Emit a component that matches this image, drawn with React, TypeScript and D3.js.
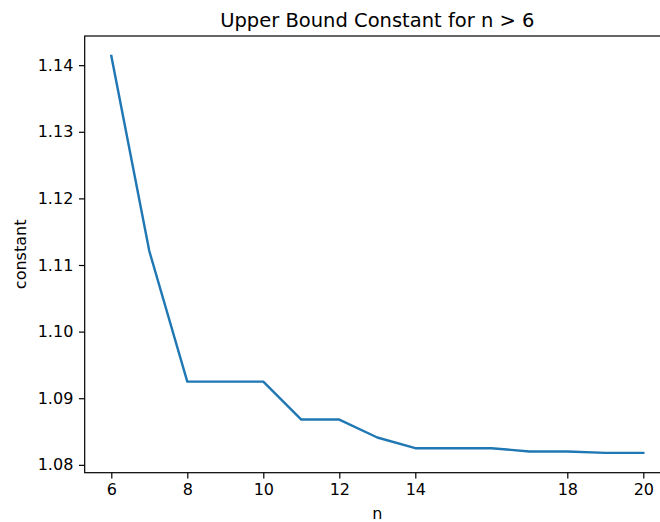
import React, { useRef, useEffect } from 'react';
import * as d3 from 'd3';

// values
const nValues = [6, 7, 8, 9, 10, 11, 12, 13, 14, 15, 16, 17, 18, 19, 20];
const constants = [
  1.1414, 1.1121, 1.0925, 1.0925, 1.0925, 1.0868, 1.0868, 1.0841,
  1.0825, 1.0825, 1.0825, 1.082, 1.082, 1.0818, 1.0818,
];
const xTicks = [6, 8, 10, 12, 14, 18, 20];
const yTicks = [1.08, 1.09, 1.1, 1.11, 1.12, 1.13, 1.14];

const WIDTH = 660;
const HEIGHT = 522;
const FONT = '"DejaVu Sans", sans-serif';

const App = () => {
  const svgRef = useRef<SVGSVGElement>(null);

  useEffect(() => {
    const svg = d3.select(svgRef.current);
    svg.selectAll('*').remove();

    const margin = { top: 36, left: 84.7 };
    const innerWidth = 585.2;
    const innerHeight = 436.7;

    // matplotlib-like 5% padding around the data
    const [xMin, xMax] = d3.extent(nValues) as [number, number];
    const [yMin, yMax] = d3.extent(constants) as [number, number];
    const xPad = (xMax - xMin) * 0.05;
    const yPad = (yMax - yMin) * 0.05;

    const x = d3.scaleLinear().domain([xMin - xPad, xMax + xPad]).range([0, innerWidth]);
    const y = d3.scaleLinear().domain([yMin - yPad, yMax + yPad]).range([innerHeight, 0]);

    const g = svg.append('g').attr('transform', `translate(${margin.left},${margin.top})`);

    const line = d3.line<number>()
      .x((_, i) => x(nValues[i]))
      .y(d => y(d));

    g.append('path')
      .datum(constants)
      .attr('fill', 'none')
      .attr('stroke', '#1f77b4')
      .attr('stroke-width', 2.4)
      .attr('stroke-linejoin', 'round')
      .attr('stroke-linecap', 'square')
      .attr('d', line);

    const xAxis = g.append('g')
      .attr('transform', `translate(0,${innerHeight})`)
      .call(d3.axisBottom(x).tickValues(xTicks).tickSize(5.7).tickPadding(5).tickFormat(d3.format('d')));

    const yAxis = g.append('g')
      .call(d3.axisLeft(y).tickValues(yTicks).tickSize(5.7).tickPadding(5.7).tickFormat(d3.format('.2f')));

    [xAxis, yAxis].forEach(ax => {
      ax.select('.domain').remove();
      ax.selectAll('line').attr('stroke', '#000').attr('stroke-width', 1.2);
      ax.selectAll('text')
        .attr('fill', '#000')
        .style('font-family', FONT)
        .style('font-size', '16px');
    });

    // spines
    g.append('rect')
      .attr('width', innerWidth)
      .attr('height', innerHeight)
      .attr('fill', 'none')
      .attr('stroke', '#000')
      .attr('stroke-width', 1.2);

    svg.append('text')
      .attr('x', margin.left + innerWidth / 2)
      .attr('y', 27)
      .attr('text-anchor', 'middle')
      .style('font-family', FONT)
      .style('font-size', '19.5px')
      .text('Upper Bound Constant for n > 6');

    svg.append('text')
      .attr('x', margin.left + innerWidth / 2)
      .attr('y', 519)
      .attr('text-anchor', 'middle')
      .style('font-family', FONT)
      .style('font-size', '16px')
      .text('n');

    svg.append('text')
      .attr('transform', `translate(25.5,${margin.top + innerHeight / 2}) rotate(-90)`)
      .attr('text-anchor', 'middle')
      .style('font-family', FONT)
      .style('font-size', '16px')
      .text('constant');
  }, []);

  return (
    <svg
      ref={svgRef}
      width={WIDTH}
      height={HEIGHT}
      style={{ position: 'absolute', left: 0, top: 0, background: '#fff' }}
    />
  );
};

export default App;
